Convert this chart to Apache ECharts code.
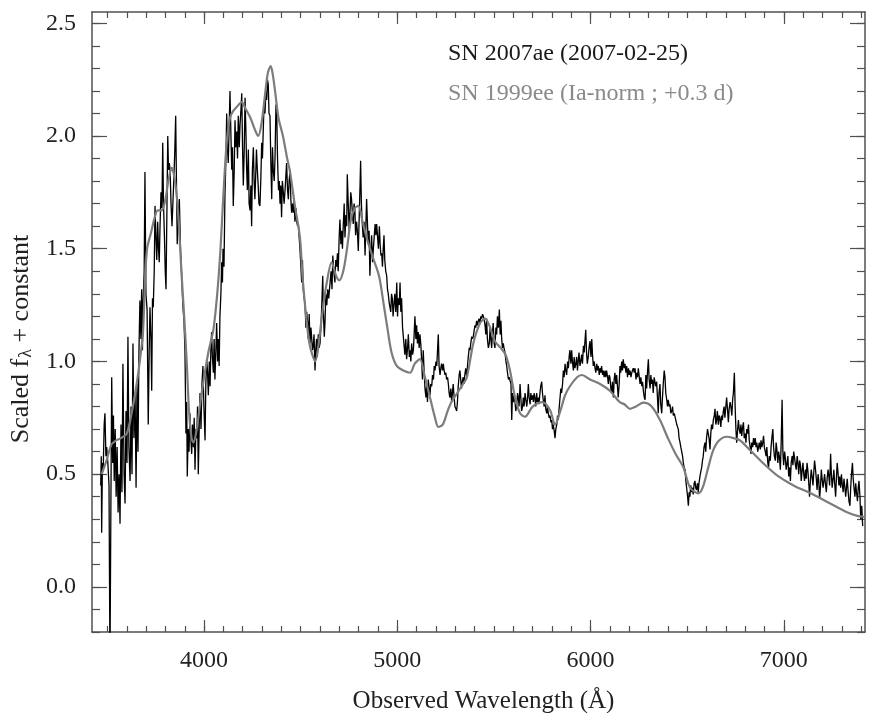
<!DOCTYPE html>
<html>
<head>
<meta charset="utf-8">
<script src="https://cdn.jsdelivr.net/npm/echarts@6/dist/echarts.min.js"></script>
<style>
  html, body { margin: 0; padding: 0; background: #fff; }
  #chart { width: 869px; height: 713px; }
</style>
</head>
<body>
<div id="chart"></div>
<script>
// SN 2007ae spectrum, [wavelength (A), scaled flux]
var sn2007ae = [
 [3465,0.45],[3468,0.58],[3470,0.24],[3474,0.55],[3478,0.52],[3483,0.72],[3487,0.77],[3492,0.58],[3496,0.62],[3502,0.55],
 [3508,0.45],[3513,-0.35],[3518,0.40],[3522,0.93],[3527,0.55],[3531,0.76],[3535,0.47],[3540,0.70],[3545,0.40],[3550,0.62],
 [3555,0.33],[3560,0.50],[3565,0.28],[3570,0.72],[3575,0.42],[3580,0.99],[3586,0.50],[3591,0.37],[3596,0.78],[3601,0.55],
 [3606,1.11],[3611,0.62],[3617,0.47],[3622,0.80],[3627,0.50],[3632,1.08],[3637,0.66],[3643,0.85],[3648,0.44],[3653,0.90],
 [3658,0.60],[3663,1.05],[3668,1.27],[3673,1.10],[3677,1.32],[3681,1.05],[3684,1.25],[3690,1.40],[3694,1.84],[3699,1.30],
 [3705,1.23],[3711,0.72],[3716,1.05],[3720,1.24],[3725,1.10],[3729,0.87],[3733,1.28],[3737,1.24],[3742,1.40],[3746,1.69],
 [3751,1.55],[3755,1.45],[3760,1.62],[3764,1.50],[3768,1.44],[3772,1.60],[3777,1.75],[3782,1.68],[3786,1.97],[3790,1.70],
 [3795,1.55],[3799,1.40],[3803,1.32],[3808,1.70],[3812,2.00],[3816,1.85],[3820,1.88],[3824,1.85],[3829,1.70],[3834,1.60],
 [3838,1.60],[3843,1.80],[3848,1.92],[3853,2.09],[3857,1.80],[3861,1.52],[3866,1.65],[3872,1.72],[3878,1.50],[3884,1.38],
 [3890,1.25],[3896,1.18],[3901,1.05],[3906,0.68],[3910,0.82],[3913,0.49],[3918,0.70],[3922,0.60],[3927,0.77],[3932,0.65],
 [3936,0.59],[3940,0.72],[3945,0.62],[3949,0.75],[3953,0.52],[3958,0.70],[3962,0.66],[3966,0.80],[3970,0.50],[3975,0.72],
 [3979,0.86],[3984,0.70],[3989,0.90],[3994,0.98],[3999,0.80],[4005,0.65],[4009,0.90],[4014,1.01],[4018,0.95],[4022,0.85],
 [4027,1.00],[4031,0.89],[4035,1.05],[4039,1.13],[4043,1.02],[4048,0.95],[4052,1.10],[4056,0.92],[4061,1.05],[4065,1.17],
 [4070,1.00],[4074,1.10],[4078,0.98],[4082,1.20],[4087,1.30],[4091,1.44],[4095,1.35],[4098,1.50],[4103,1.42],[4108,1.74],
 [4113,1.90],[4117,2.10],[4121,1.95],[4125,1.88],[4130,2.05],[4134,2.20],[4139,2.00],[4143,1.85],[4147,1.95],[4151,1.69],
 [4156,1.85],[4160,2.07],[4164,1.95],[4169,2.02],[4173,1.90],[4177,2.09],[4182,1.95],[4186,2.05],[4191,2.12],[4195,2.19],
 [4199,1.95],[4203,1.78],[4208,1.95],[4212,2.17],[4217,2.00],[4220,1.86],[4224,1.76],[4229,1.94],[4233,1.70],[4238,1.67],
 [4242,1.78],[4246,1.60],[4250,1.85],[4255,1.95],[4259,1.80],[4263,1.72],[4268,1.85],[4271,1.94],[4275,1.86],[4280,1.78],
 [4284,1.70],[4289,1.69],[4294,1.82],[4298,1.97],[4302,1.90],[4307,2.05],[4311,2.15],[4315,2.10],[4320,2.20],[4324,2.16],
 [4328,2.25],[4332,2.23],[4336,2.10],[4341,2.09],[4345,1.90],[4350,1.72],[4354,1.95],[4358,1.85],[4363,1.80],[4367,1.90],
 [4372,2.14],[4376,2.10],[4380,1.90],[4385,1.76],[4389,1.80],[4393,1.70],[4397,1.78],[4401,1.64],[4405,1.80],[4410,1.75],
 [4414,1.70],[4419,1.76],[4423,1.82],[4427,1.88],[4432,1.76],[4436,1.72],[4440,1.80],[4445,1.85],[4449,1.72],[4453,1.66],
 [4458,1.70],[4462,1.66],[4466,1.72],[4470,1.62],[4475,1.68],[4479,1.62],[4484,1.60],[4488,1.61],[4492,1.55],[4496,1.50],
 [4501,1.42],[4505,1.35],[4509,1.45],[4513,1.32],[4518,1.28],[4522,1.26],[4527,1.15],[4531,1.22],[4535,1.18],[4539,1.10],
 [4544,1.21],[4548,1.08],[4553,1.15],[4557,1.10],[4561,1.05],[4565,1.07],[4569,1.12],[4574,0.96],[4578,1.05],[4582,1.10],
 [4586,1.02],[4591,1.12],[4595,1.06],[4600,1.08],[4605,1.16],[4609,1.25],[4614,1.38],[4618,1.20],[4622,1.11],[4626,1.18],
 [4630,1.30],[4635,1.25],[4640,1.32],[4645,1.28],[4652,1.35],[4657,1.40],[4662,1.32],[4666,1.47],[4671,1.40],[4677,1.35],
 [4681,1.45],[4686,1.42],[4690,1.48],[4694,1.40],[4699,1.55],[4703,1.63],[4708,1.52],[4712,1.58],[4716,1.50],[4720,1.60],
 [4725,1.70],[4729,1.55],[4734,1.65],[4738,1.60],[4741,1.83],[4746,1.70],[4751,1.58],[4755,1.66],[4759,1.75],[4763,1.72],
 [4768,1.65],[4772,1.61],[4776,1.70],[4780,1.68],[4784,1.56],[4789,1.62],[4793,1.58],[4798,1.49],[4803,1.65],[4807,1.78],
 [4810,1.89],[4814,1.70],[4818,1.62],[4823,1.55],[4828,1.62],[4833,1.47],[4837,1.60],[4841,1.72],[4846,1.60],[4850,1.52],
 [4854,1.58],[4858,1.38],[4863,1.50],[4867,1.56],[4872,1.44],[4876,1.50],[4880,1.55],[4885,1.61],[4889,1.56],[4893,1.61],
 [4898,1.55],[4902,1.50],[4907,1.60],[4911,1.52],[4915,1.47],[4919,1.48],[4923,1.42],[4927,1.50],[4931,1.56],[4935,1.45],
 [4940,1.40],[4945,1.38],[4949,1.32],[4953,1.30],[4958,1.26],[4962,1.26],[4966,1.22],[4970,1.30],[4974,1.28],[4978,1.20],
 [4983,1.26],[4987,1.30],[4992,1.22],[4997,1.35],[5001,1.20],[5005,1.28],[5010,1.25],[5014,1.35],[5018,1.22],[5022,1.28],
 [5027,1.15],[5031,1.11],[5034,1.08],[5039,1.03],[5044,1.10],[5048,1.01],[5053,1.06],[5057,1.12],[5062,1.02],[5066,1.05],
 [5070,1.00],[5074,1.08],[5079,1.03],[5083,1.05],[5087,1.12],[5091,1.20],[5096,1.10],[5100,1.16],[5104,1.08],[5108,1.13],
 [5113,1.06],[5117,1.12],[5122,1.07],[5126,1.00],[5130,0.92],[5134,1.05],[5139,0.95],[5143,0.88],[5148,0.84],[5152,0.90],
 [5156,0.82],[5160,0.92],[5165,0.88],[5169,0.85],[5173,0.90],[5178,0.89],[5182,0.94],[5187,0.92],[5191,0.98],[5195,0.96],
 [5200,1.00],[5204,0.98],[5208,1.05],[5212,1.12],[5216,0.98],[5221,0.94],[5225,0.97],[5229,0.99],[5234,0.96],[5238,0.99],
 [5242,0.96],[5247,0.94],[5251,0.95],[5255,0.92],[5260,0.93],[5264,0.90],[5268,0.86],[5272,0.84],[5277,0.88],[5281,0.82],
 [5285,0.86],[5289,0.90],[5294,0.84],[5298,0.80],[5303,0.79],[5307,0.78],[5311,0.82],[5315,0.89],[5320,0.94],[5324,0.96],
 [5328,0.92],[5332,0.88],[5336,0.91],[5341,0.93],[5345,0.90],[5349,0.94],[5354,0.97],[5359,0.93],[5363,0.98],[5367,1.02],
 [5372,1.06],[5376,1.05],[5380,1.08],[5385,1.11],[5389,1.10],[5393,1.11],[5398,1.14],[5402,1.16],[5406,1.15],[5410,1.18],
 [5415,1.16],[5419,1.18],[5423,1.19],[5428,1.17],[5432,1.20],[5436,1.19],[5441,1.21],[5445,1.20],[5450,1.18],[5454,1.16],
 [5458,1.12],[5462,1.19],[5466,1.10],[5471,1.06],[5476,1.08],[5480,1.15],[5484,1.10],[5488,1.06],[5492,1.12],[5496,1.17],
 [5501,1.08],[5505,1.06],[5510,1.15],[5514,1.12],[5518,1.20],[5523,1.15],[5528,1.23],[5532,1.12],[5536,1.18],[5540,1.10],
 [5544,1.06],[5548,1.08],[5552,1.06],[5557,1.04],[5562,1.00],[5566,0.98],[5570,0.95],[5575,0.92],[5579,0.93],[5583,0.93],
 [5588,0.90],[5592,0.74],[5596,0.86],[5600,0.82],[5605,0.85],[5609,0.82],[5613,0.78],[5618,0.81],[5622,0.86],[5626,0.84],
 [5630,0.80],[5635,0.90],[5639,0.84],[5643,0.78],[5648,0.80],[5652,0.84],[5656,0.80],[5661,0.86],[5665,0.83],[5670,0.80],
 [5674,0.84],[5678,0.90],[5682,0.84],[5687,0.81],[5691,0.86],[5695,0.83],[5700,0.85],[5704,0.82],[5708,0.86],[5712,0.84],
 [5716,0.80],[5721,0.86],[5725,0.82],[5729,0.84],[5733,0.81],[5738,0.86],[5742,0.89],[5747,0.91],[5751,0.86],[5755,0.83],
 [5760,0.80],[5764,0.85],[5768,0.79],[5773,0.77],[5777,0.80],[5781,0.77],[5786,0.75],[5790,0.76],[5795,0.73],[5799,0.74],
 [5803,0.70],[5807,0.72],[5812,0.69],[5816,0.66],[5820,0.70],[5825,0.72],[5829,0.76],[5833,0.74],[5837,0.79],[5842,0.84],
 [5846,0.88],[5850,0.86],[5855,0.90],[5859,0.96],[5863,0.93],[5868,0.99],[5872,0.96],[5876,0.94],[5881,1.00],[5885,0.97],
 [5889,1.02],[5893,1.05],[5898,0.99],[5902,1.05],[5906,1.00],[5911,0.96],[5915,1.02],[5919,0.97],[5924,0.99],[5928,1.02],
 [5932,0.96],[5936,1.00],[5940,1.04],[5945,0.98],[5949,1.00],[5954,1.03],[5958,0.99],[5963,1.07],[5967,1.04],[5971,1.09],
 [5975,1.14],[5979,1.04],[5983,0.99],[5988,1.02],[5992,1.06],[5997,1.09],[6002,1.02],[6006,1.10],[6010,1.03],[6014,0.98],
 [6019,1.00],[6023,0.97],[6027,0.95],[6032,0.99],[6036,0.96],[6040,0.98],[6045,0.94],[6049,0.97],[6053,0.95],[6057,0.98],
 [6062,0.94],[6066,0.96],[6070,0.93],[6075,0.96],[6079,0.93],[6083,0.96],[6088,0.93],[6092,0.90],[6096,0.94],[6100,0.93],
 [6105,0.88],[6109,0.86],[6113,0.91],[6118,0.84],[6122,0.92],[6126,0.95],[6131,0.90],[6135,0.94],[6139,0.89],[6143,0.84],
 [6148,0.90],[6152,0.98],[6156,0.95],[6161,1.00],[6165,0.96],[6169,1.01],[6174,0.97],[6178,0.99],[6183,0.95],[6187,0.98],
 [6191,0.93],[6196,0.97],[6200,0.94],[6204,0.96],[6209,0.93],[6213,0.95],[6217,0.96],[6221,0.97],[6226,0.95],[6230,0.97],
 [6235,0.92],[6239,0.95],[6243,0.93],[6247,0.97],[6252,0.93],[6256,0.90],[6260,0.93],[6265,0.89],[6269,0.91],[6273,0.87],
 [6278,0.84],[6282,0.83],[6286,0.94],[6290,0.88],[6295,0.96],[6299,1.01],[6303,0.92],[6308,0.88],[6312,0.94],[6316,0.90],
 [6320,0.92],[6324,0.86],[6329,0.93],[6333,0.93],[6337,0.89],[6342,0.91],[6346,0.84],[6350,0.77],[6354,0.86],[6359,0.90],
 [6363,0.81],[6368,0.77],[6372,0.84],[6376,0.90],[6381,0.96],[6385,0.93],[6389,0.86],[6394,0.83],[6398,0.80],[6402,0.83],
 [6407,0.80],[6411,0.81],[6415,0.77],[6420,0.78],[6424,0.80],[6428,0.76],[6433,0.77],[6437,0.77],[6441,0.74],[6446,0.72],
 [6450,0.71],[6454,0.70],[6458,0.66],[6463,0.64],[6467,0.62],[6471,0.62],[6476,0.58],[6480,0.55],[6484,0.53],[6489,0.52],
 [6493,0.47],[6497,0.44],[6502,0.40],[6506,0.36],[6510,0.42],[6514,0.40],[6518,0.45],[6523,0.42],[6527,0.44],[6531,0.41],
 [6536,0.46],[6540,0.47],[6544,0.44],[6548,0.43],[6553,0.46],[6557,0.42],[6561,0.46],[6566,0.49],[6570,0.51],[6575,0.53],
 [6579,0.56],[6583,0.58],[6587,0.62],[6592,0.64],[6596,0.60],[6600,0.66],[6605,0.70],[6609,0.70],[6613,0.66],[6618,0.61],
 [6622,0.68],[6626,0.72],[6631,0.70],[6635,0.74],[6640,0.76],[6644,0.79],[6648,0.72],[6652,0.74],[6656,0.78],[6661,0.72],
 [6665,0.76],[6669,0.75],[6674,0.71],[6678,0.76],[6682,0.74],[6687,0.78],[6691,0.80],[6695,0.75],[6700,0.80],[6704,0.84],
 [6709,0.78],[6713,0.73],[6717,0.79],[6722,0.82],[6726,0.80],[6731,0.76],[6735,0.83],[6739,0.86],[6744,0.95],[6748,0.80],
 [6752,0.70],[6756,0.64],[6761,0.70],[6765,0.74],[6769,0.70],[6774,0.68],[6778,0.72],[6782,0.67],[6787,0.71],[6791,0.73],
 [6795,0.66],[6800,0.68],[6804,0.64],[6808,0.70],[6813,0.68],[6817,0.72],[6821,0.65],[6826,0.62],[6830,0.59],[6834,0.64],
 [6839,0.62],[6843,0.66],[6847,0.63],[6852,0.66],[6856,0.62],[6860,0.64],[6865,0.60],[6869,0.62],[6873,0.64],[6878,0.61],
 [6882,0.65],[6886,0.62],[6891,0.64],[6895,0.67],[6899,0.62],[6904,0.60],[6908,0.58],[6912,0.62],[6917,0.55],[6921,0.53],
 [6925,0.58],[6930,0.56],[6934,0.62],[6938,0.66],[6943,0.70],[6947,0.62],[6951,0.58],[6956,0.56],[6960,0.64],[6964,0.61],
 [6969,0.55],[6973,0.60],[6978,0.57],[6982,0.52],[6986,0.63],[6991,0.83],[6995,0.60],[6999,0.54],[7004,0.60],[7008,0.57],
 [7012,0.52],[7017,0.55],[7021,0.58],[7025,0.49],[7030,0.53],[7034,0.47],[7038,0.55],[7043,0.58],[7047,0.54],[7051,0.60],
 [7056,0.57],[7060,0.54],[7064,0.52],[7069,0.58],[7073,0.55],[7077,0.50],[7082,0.56],[7086,0.54],[7090,0.47],[7095,0.52],
 [7099,0.55],[7103,0.50],[7107,0.47],[7112,0.52],[7116,0.48],[7120,0.55],[7125,0.51],[7129,0.46],[7133,0.40],[7138,0.48],
 [7142,0.52],[7146,0.49],[7151,0.45],[7155,0.51],[7159,0.56],[7164,0.52],[7168,0.48],[7172,0.43],[7177,0.50],[7181,0.47],
 [7185,0.39],[7190,0.45],[7194,0.52],[7198,0.48],[7203,0.44],[7207,0.47],[7211,0.50],[7216,0.45],[7220,0.42],[7224,0.48],
 [7229,0.52],[7233,0.49],[7237,0.45],[7242,0.59],[7246,0.50],[7250,0.44],[7255,0.48],[7259,0.52],[7263,0.46],[7268,0.40],
 [7272,0.48],[7276,0.55],[7281,0.50],[7285,0.45],[7289,0.49],[7294,0.44],[7298,0.50],[7302,0.46],[7307,0.42],[7311,0.48],
 [7315,0.45],[7320,0.40],[7324,0.44],[7328,0.48],[7333,0.42],[7337,0.38],[7342,0.36],[7346,0.44],[7350,0.50],[7355,0.55],
 [7359,0.48],[7363,0.44],[7368,0.40],[7372,0.46],[7376,0.42],[7381,0.38],[7385,0.44],[7389,0.47],[7394,0.40],[7398,0.30],
 [7403,0.36],[7408,0.27]
];

// SN 1999ee template (smooth grey curve)
var sn1999ee = [
 [3470,0.50],[3495,0.56],[3520,0.63],[3545,0.65],[3570,0.66],[3600,0.68],[3625,0.77],[3651,0.90],[3670,1.02],[3684,1.13],
 [3694,1.35],[3705,1.50],[3725,1.57],[3745,1.64],[3760,1.67],[3781,1.67],[3800,1.72],[3815,1.80],[3832,1.86],[3846,1.82],
 [3860,1.72],[3872,1.57],[3884,1.38],[3897,1.20],[3910,1.00],[3922,0.78],[3935,0.66],[3945,0.64],[3962,0.70],[3979,0.81],
 [4000,0.93],[4022,1.04],[4048,1.14],[4068,1.30],[4085,1.50],[4100,1.74],[4117,1.97],[4134,2.08],[4150,2.11],[4170,2.13],
 [4195,2.15],[4215,2.12],[4240,2.08],[4262,2.03],[4280,2.00],[4298,2.06],[4315,2.18],[4330,2.28],[4345,2.31],[4356,2.27],
 [4370,2.18],[4385,2.08],[4408,2.00],[4430,1.90],[4445,1.84],[4470,1.69],[4496,1.55],[4510,1.37],[4528,1.20],[4545,1.08],
 [4560,1.03],[4575,1.00],[4590,1.06],[4614,1.23],[4635,1.35],[4660,1.44],[4683,1.38],[4700,1.36],[4720,1.40],[4738,1.49],
 [4760,1.63],[4780,1.68],[4798,1.69],[4820,1.62],[4841,1.55],[4870,1.47],[4905,1.38],[4930,1.25],[4950,1.14],[4970,1.04],
 [4997,0.98],[5031,0.96],[5066,0.95],[5090,0.99],[5117,1.01],[5140,0.94],[5169,0.84],[5195,0.75],[5212,0.71],[5235,0.72],
 [5260,0.78],[5280,0.82],[5310,0.86],[5340,0.90],[5360,0.93],[5393,1.08],[5428,1.17],[5454,1.19],[5476,1.16],[5505,1.09],
 [5535,1.06],[5560,1.03],[5583,0.96],[5609,0.84],[5635,0.77],[5661,0.755],[5700,0.80],[5750,0.82],[5790,0.785],[5816,0.72],
 [5845,0.785],[5868,0.85],[5893,0.89],[5930,0.93],[5954,0.94],[5997,0.92],[6049,0.90],[6100,0.87],[6150,0.82],[6175,0.81],
 [6204,0.79],[6235,0.80],[6273,0.817],[6316,0.80],[6359,0.74],[6400,0.66],[6440,0.59],[6480,0.53],[6515,0.44],[6557,0.415],
 [6580,0.44],[6609,0.53],[6632,0.60],[6660,0.645],[6704,0.666],[6740,0.66],[6773,0.65],[6825,0.607],[6894,0.548],[6963,0.496],
 [7050,0.45],[7152,0.41],[7240,0.37],[7330,0.33],[7380,0.315],[7418,0.31]
];

var xRange = [3420, 7420];
var yRange = [-0.2, 2.55];
var xMajorTicks = [4000, 5000, 6000, 7000];
var yMajorTicks = [0, 0.5, 1.0, 1.5, 2.0, 2.5];
var legendLabels = ['SN 2007ae (2007-02-25)', 'SN 1999ee (Ia-norm ; +0.3 d)'];

// minor ticks every 100 A and every 0.1
var xMinorTicks = [];
for (var w = 3500; w <= 7400; w += 100) xMinorTicks.push(w);
var yMinorTicks = [];
for (var k = -2; k <= 25; k++) yMinorTicks.push(k / 10);

var FONT = '"Liberation Serif", "DejaVu Serif", serif';
var AXIS_COLOR = '#505050';

function xAx(pos, ticks, len, withLine, withLabel) {
    return {
        type: 'value', position: pos, min: xRange[0], max: xRange[1],
        axisLine: {show: withLine, onZero: false, lineStyle: {color: AXIS_COLOR, width: 1.5}},
        axisTick: {show: true, inside: true, length: len, customValues: ticks,
                   lineStyle: {color: AXIS_COLOR, width: 1.2}},
        axisLabel: withLabel ? {show: true, customValues: ticks, fontFamily: FONT, fontSize: 24,
                   color: '#222', margin: 17,
                   formatter: function (v) { return String(v); }} : {show: false},
        splitLine: {show: false}
    };
}
function yAx(pos, ticks, len, withLine, withLabel) {
    return {
        type: 'value', position: pos, min: yRange[0], max: yRange[1],
        axisLine: {show: withLine, onZero: false, lineStyle: {color: AXIS_COLOR, width: 1.5}},
        axisTick: {show: true, inside: true, length: len, customValues: ticks,
                   lineStyle: {color: AXIS_COLOR, width: 1.2}},
        axisLabel: withLabel ? {show: true, customValues: ticks, fontFamily: FONT, fontSize: 24,
                   color: '#222', margin: 16,
                   formatter: function (v) { return v.toFixed(1); }} : {show: false},
        splitLine: {show: false}
    };
}

var yMain = yAx('left', yMajorTicks, 15, true, true);
yMain.name = 'Scaled f{sub|λ} + constant';
yMain.nameLocation = 'middle';
yMain.nameGap = 54;
yMain.nameRotate = 90;
yMain.nameTextStyle = {fontFamily: FONT, fontSize: 26, color: '#222', padding: [0, 34, 0, 0],
    rich: {sub: {fontFamily: FONT, fontSize: 18, color: '#222', padding: [10, 0, 0, 1]}}};

var xMain = xAx('bottom', xMajorTicks, 12, true, true);
xMain.name = 'Observed Wavelength (Å)';
xMain.nameLocation = 'middle';
xMain.nameGap = 57;
xMain.nameTextStyle = {fontFamily: FONT, fontSize: 25, color: '#222', padding: [0, 0, 0, 10]};

var chart = echarts.init(document.getElementById('chart'), null, {renderer: 'canvas'});
chart.setOption({
    animation: false,
    backgroundColor: '#fff',
    grid: {left: 92, right: 4, top: 12, bottom: 81, containLabel: false, outerBoundsMode: 'none'},
    xAxis: [
        xMain,
        xAx('bottom', xMinorTicks, 6, false, false),
        xAx('top', xMajorTicks, 12, true, false),
        xAx('top', xMinorTicks, 6, false, false)
    ],
    yAxis: [
        yMain,
        yAx('left', yMinorTicks, 8, false, false),
        yAx('right', yMajorTicks, 15, true, false),
        yAx('right', yMinorTicks, 8, false, false)
    ],
    graphic: [
        {type: 'text', left: 448, top: 42,
         style: {text: legendLabels[0], font: '24px ' + FONT, fill: '#1a1a1a'}},
        {type: 'text', left: 448, top: 82,
         style: {text: legendLabels[1], font: '24px ' + FONT, fill: '#8a8a8a'}}
    ],
    series: [
        {name: legendLabels[0], type: 'line', data: sn2007ae, showSymbol: false, clip: true,
         lineStyle: {color: '#000', width: 1.3}, z: 2},
        {name: legendLabels[1], type: 'line', data: sn1999ee, showSymbol: false, clip: true,
         smooth: 0.3, lineStyle: {color: '#7c7c7c', width: 2.2}, z: 3}
    ]
});
</script>
</body>
</html>
